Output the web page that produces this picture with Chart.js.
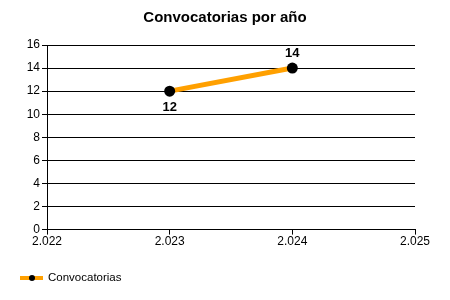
<!DOCTYPE html>
<html>
<head>
<meta charset="utf-8">
<script src="https://cdn.jsdelivr.net/npm/chart.js@4"></script>
<style>
  html, body { margin: 0; padding: 0; background: #fff; }
  #wrap { width: 450px; height: 300px; }
</style>
</head>
<body>
<div id="wrap"><canvas id="chart" width="450" height="300"></canvas></div>
<script>
const years = [2023, 2024];
const convocatorias = [12, 14];
const seriesName = 'Convocatorias';
const chartTitle = 'Convocatorias por año';

const FONT = "'Liberation Sans', Arial, sans-serif";
const lineColor = '#FFA000';

// thousands separator like "2.022"
function fmt(v) {
    return String(v).replace(/\B(?=(\d{3})+(?!\d))/g, '.');
}

// title centred on the whole canvas, not the padded box
const canvasTitle = {
    id: 'canvasTitle',
    afterDraw(chart) {
        const ctx = chart.ctx;
        ctx.save();
        ctx.font = 'bold 15px ' + FONT;
        ctx.fillStyle = '#000';
        ctx.textAlign = 'center';
        ctx.textBaseline = 'middle';
        ctx.fillText(chartTitle, chart.width / 2, 18);
        ctx.restore();
    }
};

// value labels: below for the first point, above for the others
const valueLabels = {
    id: 'valueLabels',
    afterDatasetsDraw(chart) {
        const ctx = chart.ctx;
        const meta = chart.getDatasetMeta(0);
        ctx.save();
        ctx.font = 'bold 13px ' + FONT;
        ctx.fillStyle = '#000';
        ctx.textAlign = 'center';
        meta.data.forEach((pt, i) => {
            const v = chart.data.datasets[0].data[i].y;
            if (i === 0) {
                ctx.textBaseline = 'top';
                ctx.fillText(v, pt.x, pt.y + 10);
            } else {
                ctx.textBaseline = 'bottom';
                ctx.fillText(v, pt.x, pt.y - 8);
            }
        });
        ctx.restore();
    }
};

// legend in the bottom left corner
const bottomLegend = {
    id: 'bottomLegend',
    afterDraw(chart) {
        const ctx = chart.ctx;
        const y = 278;
        ctx.save();
        ctx.strokeStyle = lineColor;
        ctx.lineWidth = 4;
        ctx.beginPath();
        ctx.moveTo(20, y);
        ctx.lineTo(43, y);
        ctx.stroke();
        ctx.fillStyle = '#000';
        ctx.beginPath();
        ctx.arc(32, y, 3, 0, Math.PI * 2);
        ctx.fill();
        ctx.font = '11.5px ' + FONT;
        ctx.textBaseline = 'middle';
        ctx.fillText(seriesName, 48, y);
        ctx.restore();
    }
};

new Chart(document.getElementById('chart').getContext('2d'), {
    type: 'line',
    data: {
        datasets: [{
            label: seriesName,
            data: years.map((x, i) => ({ x: x, y: convocatorias[i] })),
            borderColor: lineColor,
            borderWidth: 5,
            pointRadius: 5.5,
            pointBackgroundColor: '#000',
            pointBorderColor: '#000',
            pointBorderWidth: 0,
            tension: 0
        }]
    },
    options: {
        responsive: false,
        animation: false,
        layout: { padding: { left: 0, right: 35, top: 45, bottom: 51 } },
        plugins: {
            legend: { display: false },
            tooltip: { enabled: false },
            title: { display: false }
        },
        scales: {
            x: {
                type: 'linear',
                min: 2022,
                max: 2025,
                ticks: {
                    stepSize: 1,
                    color: '#000',
                    font: { family: FONT, size: 12 },
                    padding: 0,
                    maxRotation: 0,
                    callback: v => fmt(v)
                },
                grid: { drawOnChartArea: false, drawTicks: true, tickLength: 5, color: '#000' },
                border: { display: true, color: '#000', width: 1 }
            },
            y: {
                min: 0,
                max: 16,
                ticks: {
                    stepSize: 2,
                    color: '#000',
                    font: { family: FONT, size: 12 },
                    padding: 2
                },
                grid: { color: '#000', lineWidth: 1, drawTicks: true, tickLength: 5 },
                border: { display: true, color: '#000', width: 1 },
                afterFit: s => { s.width = 47; }
            }
        }
    },
    plugins: [canvasTitle, valueLabels, bottomLegend]
});
</script>
</body>
</html>
